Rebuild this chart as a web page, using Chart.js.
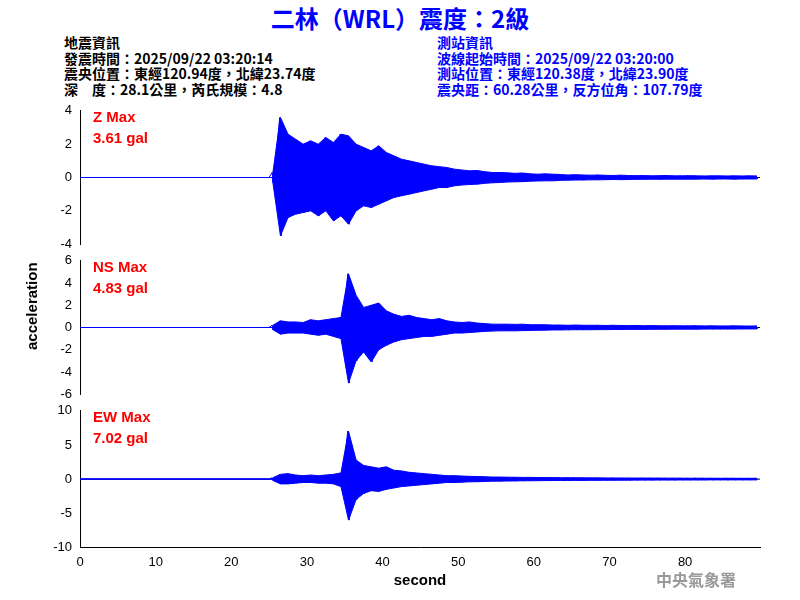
<!DOCTYPE html><html><head><meta charset="utf-8">
<script src="https://cdn.jsdelivr.net/npm/chart.js@4"></script>
<style>
body{margin:0;width:800px;height:600px;background:#fff;position:relative;font-family:"Liberation Sans",Arial,sans-serif;overflow:hidden}
.t{position:absolute;white-space:pre;font-family:"Noto Sans CJK TC","Liberation Sans";font-size:14px;line-height:15.5px;font-weight:bold}
canvas{position:absolute}
.r{position:absolute;color:#f00;font-size:15px;font-weight:bold;line-height:21px;font-family:"Liberation Sans",Arial}
</style></head><body>
<div class="t" style="left:0;width:800px;text-align:center;top:3px;font-size:24px;line-height:30px;color:#00f">二林（WRL）震度：2級</div>
<div class="t" style="left:64px;top:35px;color:#000">地震資訊
發震時間：2025/09/22 03:20:14
震央位置：東經120.94度，北緯23.74度
深　度：28.1公里，芮氏規模：4.8</div>
<div class="t" style="left:437px;top:35px;color:#00f">測站資訊
波線起始時間：2025/09/22 03:20:00
測站位置：東經120.38度，北緯23.90度
震央距：60.28公里，反方位角：107.79度</div>
<canvas id="c1" style="left:0;top:100px" width="800" height="155"></canvas>
<canvas id="c2" style="left:0;top:250px" width="800" height="155"></canvas>
<canvas id="c3" style="left:0;top:400px" width="800" height="190"></canvas>
<div class="r" style="left:93px;top:106px">Z Max<br>3.61 gal</div>
<div class="r" style="left:93px;top:256px">NS Max<br>4.83 gal</div>
<div class="r" style="left:93px;top:406px">EW Max<br>7.02 gal</div>
<div class="t" style="transform-origin:0 0;transform:rotate(-90deg);font-family:'Liberation Sans';font-size:15px;color:#000;top:350px;left:24px">acceleration</div>
<div class="t" style="left:656px;top:572px;color:#999;font-size:16px;font-family:'Noto Sans CJK TC'">中央氣象署</div>
<script>
const startSec = 25;
const zMax = [0.3,3.6,2.6,2.3,2.0,2.2,2.0,2.4,2.1,2.6,2.5,2.0,1.8,1.6,1.9,1.5,1.3,1.1,1.0,0.9,0.8,0.7,0.65,0.6,0.5,0.45,0.4,0.42,0.35,0.3,0.3,0.28,0.25,0.27,0.22,0.2,0.22,0.2,0.18,0.15,0.17,0.15,0.14,0.15,0.13,0.12,0.14,0.12,0.11,0.12,0.1,0.11,0.12,0.1,0.1,0.11,0.1,0.09,0.1,0.1,0.09,0.1,0.09,0.1,0.09];
const zMin = [-0.3,-3.5,-2.4,-2.2,-2.1,-2.0,-2.3,-2.0,-2.6,-2.3,-2.8,-2.0,-1.7,-1.8,-1.6,-1.4,-1.2,-1.1,-1.0,-0.9,-0.8,-0.7,-0.6,-0.6,-0.5,-0.45,-0.42,-0.4,-0.35,-0.32,-0.3,-0.27,-0.26,-0.25,-0.22,-0.21,-0.2,-0.2,-0.17,-0.16,-0.15,-0.15,-0.14,-0.14,-0.13,-0.12,-0.13,-0.12,-0.11,-0.11,-0.1,-0.11,-0.1,-0.1,-0.1,-0.1,-0.1,-0.09,-0.1,-0.09,-0.09,-0.1,-0.09,-0.09,-0.09];
const nsMax = [0.2,0.6,0.5,0.5,0.45,0.7,0.6,0.7,0.8,0.9,4.83,2.9,1.8,2.0,2.2,1.5,1.2,1.0,1.1,0.9,0.8,0.7,0.8,0.6,0.5,0.45,0.5,0.4,0.35,0.3,0.3,0.3,0.28,0.3,0.25,0.25,0.25,0.22,0.22,0.2,0.22,0.2,0.2,0.2,0.18,0.2,0.18,0.17,0.18,0.16,0.17,0.16,0.15,0.16,0.15,0.15,0.16,0.14,0.15,0.14,0.14,0.15,0.14,0.13,0.14];
const nsMin = [-0.2,-0.6,-0.5,-0.5,-0.5,-0.6,-0.7,-0.6,-0.8,-1.0,-5.0,-3.0,-2.2,-3.1,-2.0,-1.6,-1.3,-1.1,-1.0,-0.9,-0.8,-0.8,-0.7,-0.6,-0.5,-0.5,-0.45,-0.4,-0.35,-0.32,-0.3,-0.3,-0.3,-0.28,-0.26,-0.25,-0.24,-0.22,-0.22,-0.21,-0.2,-0.2,-0.2,-0.19,-0.19,-0.18,-0.18,-0.17,-0.17,-0.17,-0.16,-0.16,-0.16,-0.15,-0.15,-0.15,-0.15,-0.14,-0.14,-0.14,-0.14,-0.14,-0.13,-0.13,-0.13];
const ewMax = [0.2,0.7,0.8,0.6,0.5,0.6,0.5,0.6,0.7,0.9,7.02,2.8,2.0,1.8,1.6,1.8,1.3,1.2,1.0,0.9,0.8,0.7,0.6,0.5,0.5,0.45,0.4,0.38,0.35,0.3,0.3,0.28,0.27,0.25,0.25,0.23,0.22,0.22,0.2,0.2,0.2,0.19,0.18,0.18,0.17,0.17,0.16,0.16,0.15,0.16,0.15,0.15,0.14,0.14,0.14,0.13,0.14,0.13,0.13,0.12,0.13,0.12,0.12,0.12,0.12];
const ewMin = [-0.2,-0.7,-0.7,-0.6,-0.5,-0.5,-0.6,-0.6,-0.7,-1.1,-6.0,-3.0,-2.1,-1.7,-1.8,-1.5,-1.3,-1.1,-1.0,-0.9,-0.8,-0.7,-0.6,-0.5,-0.5,-0.45,-0.4,-0.38,-0.35,-0.3,-0.3,-0.28,-0.27,-0.25,-0.24,-0.23,-0.22,-0.21,-0.2,-0.2,-0.19,-0.19,-0.18,-0.18,-0.17,-0.17,-0.16,-0.16,-0.15,-0.15,-0.15,-0.14,-0.14,-0.14,-0.13,-0.13,-0.13,-0.13,-0.12,-0.12,-0.12,-0.12,-0.12,-0.12,-0.12];
const xTicks = [0,10,20,30,40,50,60,70,80];

function env(arr){
  const d=[{x:0,y:0},{x:startSec+0.5,y:0}];
  for(let i=0;i<arr.length;i++){ d.push({x:startSec+i+0.5,y:arr[i]}); }
  return d;
}
function zig(mx, mn){
  const d=[{x:0,y:0},{x:startSec,y:0}];
  for(let i=0;i<mx.length;i++){
    d.push({x:startSec+i+0.4,y:mx[i]});
    d.push({x:startSec+i+0.6,y:mn[i]});
  }
  return d;
}
function mk(id, mx, mn, lo, hi, step, showX){
  new Chart(document.getElementById(id),{
    type:'line',
    data:{datasets:[
      {data:env(mx),borderColor:'#00f',backgroundColor:'#00f',borderWidth:1,pointRadius:0,tension:0,fill:'+1'},
      {data:env(mn),borderColor:'#00f',borderWidth:1,pointRadius:0,tension:0,fill:false},
      {data:zig(mx,mn),borderColor:'#00f',borderWidth:1,pointRadius:0,tension:0,fill:false}
    ]},
    options:{responsive:false,animation:false,layout:{padding:{top:1,bottom:0,right:40}},
      plugins:{legend:{display:false},tooltip:{enabled:false}},
      scales:{
        x:{type:'linear',min:0,max:89.9,display:showX,grid:{display:false,tickLength:5},border:{color:'#000'},
          afterBuildTicks:a=>{a.ticks=xTicks.map(v=>({value:v}));},
          ticks:{color:'#000',font:{size:13,family:'Liberation Sans'},padding:2},
          title:{display:true,text:'second',color:'#000',font:{size:15,weight:'bold',family:'Liberation Sans'},padding:0}},
        y:{min:lo,max:hi,grid:{display:false,tickLength:5},border:{color:'#000'},
          afterFit:a=>{a.width=80;},
          ticks:{stepSize:step,color:'#000',font:{size:13,family:'Liberation Sans'}}}
      }},
    plugins:[{id:'zero',beforeDatasetsDraw(c){const g=c.ctx,y=c.scales.y.getPixelForValue(0);g.save();g.strokeStyle='#000';g.lineWidth=1;g.beginPath();g.moveTo(c.chartArea.left,y);g.lineTo(c.chartArea.right,y);g.stroke();g.restore();}}]
  });
}
mk('c1',zMax,zMin,-4,4,2,false);
mk('c2',nsMax,nsMin,-6,6,2,false);
mk('c3',ewMax,ewMin,-10,10,5,true);
</script></body></html>
